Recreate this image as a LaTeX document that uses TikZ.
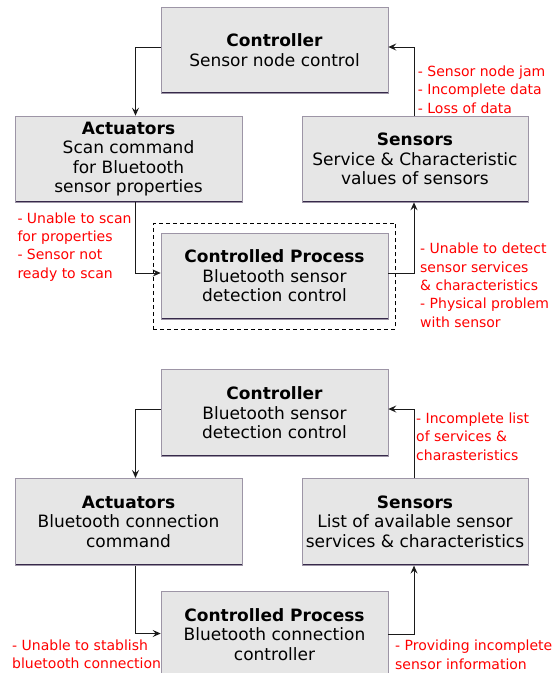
\documentclass[tikz,border=0pt]{standalone}
\usepackage{fontspec}
\setmainfont{DejaVu Sans}
\usepackage{xcolor}
\usepackage{tikz}
\usetikzlibrary{arrows.meta,calc}
\definecolor{boxfill}{HTML}{E6E6E6}
\definecolor{boxline}{HTML}{9D95A6}
\definecolor{boxbase}{HTML}{36294A}
\definecolor{linecol}{HTML}{1A1A1A}
\newcommand{\boxfont}{\fontsize{17}{19.5}\selectfont}
\newcommand{\notefont}{\fontsize{14}{18.3}\selectfont}

\begin{document}
\begin{tikzpicture}[x=1pt,y=-1pt,>={Stealth[length=8pt,width=7pt,inset=3pt]},
	block/.style={fill=boxfill,draw=boxline,line width=.6pt,minimum width=227pt,
		minimum height=86pt,inner sep=0pt,align=center,font=\boxfont,
		path picture={\draw[boxbase,line width=2.4pt] (path picture bounding box.south west)
			-- (path picture bounding box.south east);}},
	note/.style={text=red,font=\notefont,align=left,anchor=base west,inner sep=0pt},
	wire/.style={draw=linecol,line width=1pt,->}]
	
	\useasboundingbox (0,0) rectangle (560,673);
	
	% first loop
	\node[block] (ctrl1) at (274.5,50) {\textbf{Controller}\\Sensor node control};
	\node[block] (act1)  at (128.5,159) {\textbf{Actuators}\\Scan command\\for Bluetooth\\sensor properties};
	\node[block,minimum width=226pt] (sens1) at (415,159) {\textbf{Sensors}\\Service \& Characteristic\\values of sensors};
	\node[block] (proc1) at (274.5,276) {\textbf{Controlled Process}\\Bluetooth sensor\\detection control};
	\node[draw=black,line width=.8pt,dash pattern=on 4pt off 3pt,minimum width=242.4pt,
		minimum height=105.7pt] (frame1) at (274.5,276.2) {}; % focus of loop two
	
	\draw[wire] ([yshift=3pt]ctrl1.west) -| ([xshift=7pt]act1.north);
	\draw[wire] ([xshift=7pt]act1.south) |- ([yshift=3pt]proc1.west);
	\draw[wire] ([yshift=3pt]proc1.east) -| ([xshift=-1pt]sens1.south);
	\draw[wire] ([xshift=-1pt]sens1.north) |- ([yshift=3pt]ctrl1.east);
	
	% notes sit on the baseline of their last line
	\path
		(417.7,113)  node[note] (fb1) {- Sensor node jam\\- Incomplete data\\- Loss of data}
		(17.3,278)   node[note] (ca1) {- Unable to scan\\for properties\\- Sensor not\\ready to scan}
		(420,327)    node[note] (cp1) {- Unable to detect\\sensor services\\\& characteristics\\- Physical problem\\with sensor};
	
	% second loop
	\node[block,minimum height=87pt] (ctrl2) at (274.5,413) {\textbf{Controller}\\Bluetooth sensor\\detection control};
	\node[block,minimum height=87pt] (act2)  at (128.5,521.8) {\textbf{Actuators}\\Bluetooth connection\\command};
	\node[block,minimum width=226pt,minimum height=87pt] (sens2) at (415,521.8) {\textbf{Sensors}\\List of available sensor\\services \& characteristics};
	\node[block,minimum height=87pt] (proc2) at (274.5,634.5) {\textbf{Controlled Process}\\Bluetooth connection\\controller};
	
	\draw[wire] ([yshift=4pt]ctrl2.west) -| ([xshift=7pt]act2.north);
	\draw[wire] ([xshift=7pt]act2.south) |- ([yshift=1pt]proc2.west);
	\draw[wire] ([yshift=0pt]proc2.east) -| ([xshift=-1pt]sens2.south);
	\draw[wire] ([xshift=-1pt]sens2.north) |- ([yshift=4pt]ctrl2.east);
	
	\path
		(416,460)    node[note] (fb2) {- Incomplete list\\of services \&\\charasteristics}
		(12,668.5)   node[note] (ca2) {- Unable to stablish\\bluetooth connection}
		(395,669)    node[note] (cp2) {- Providing incomplete\\sensor information};
	
\end{tikzpicture}
\end{document}
